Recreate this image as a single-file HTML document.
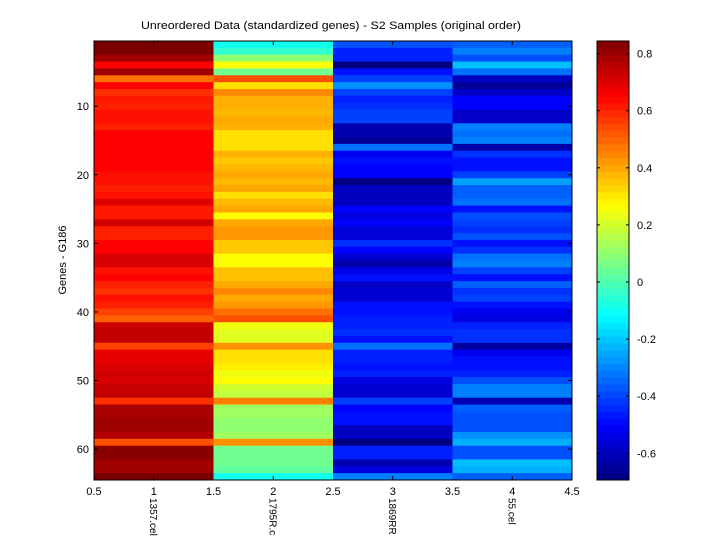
<!DOCTYPE html>
<html><head><meta charset="utf-8">
<style>
body{margin:0;background:#fff;width:720px;height:540px;overflow:hidden}
svg text{font-family:"Liberation Sans",sans-serif;font-size:11px;fill:#000}
</style></head><body>
<svg id="s" width="720" height="540" xmlns="http://www.w3.org/2000/svg">
<rect width="720" height="540" fill="#fff"/>
<g id="cells"></g>
<rect x="94" y="41" width="478" height="439" fill="none" stroke="#000" stroke-width="1"/>
<g id="ticks" stroke="#000" stroke-width="1"></g>
<text x="331" y="29" text-anchor="middle" textLength="380" lengthAdjust="spacingAndGlyphs">Unreordered Data (standardized genes) - S2 Samples (original order)</text>
<text transform="translate(66,260) rotate(-90)" text-anchor="middle">Genes - G186</text>
<g id="labels"></g>
<g id="cbc"></g>
<rect x="597" y="41" width="32" height="439" fill="none" stroke="#000"/>
<g id="cb" stroke="#000"></g>
</svg>
<script>
var c1="7a0000 7a0000 a00000 ff0000 a00000 ff7000 ff0000 ff3000 ff1800 ff2000 ff1000 ff1000 ff2000 ff0000 ff0000 ff0000 ff0000 ff0000 ff0000 ff1000 ff1000 ff2000 ff1000 e00000 ff1800 ff1800 d00000 ff2000 ff2000 ff0000 ff0000 d80000 d80000 ff1000 ff0000 ff2000 ff3000 ff1000 ff2000 ff4000 ff6000 c80000 c00000 c00000 ff4000 e80000 e80000 d80000 d00000 d80000 c80000 c00000 ff3000 a80000 a80000 a00000 a00000 b00000 ff5000 880000 880000 a00000 a00000 7a0000".split(" ");
var c2="10ffef 30ffd0 90ff70 ffff00 70ff90 ff5000 ffe000 ff8800 ffb000 ffb000 ffb800 ffa800 ffb000 ffe000 ffe000 ffe000 ffb000 ffc800 ffb800 ffa800 ffb800 ffa800 ffe000 ffb800 ffa800 ffff00 ffa800 ff9800 ff9800 ffc800 ffc800 ffff00 ffff00 ffc000 ffc000 ffa800 ff8800 ffa800 ff9800 ff7000 ff5000 f0ff10 e0ff20 e0ff20 ff9000 ffe000 ffe000 fff000 f0ff10 ffff00 d0ff30 c0ff40 ff8000 a0ff60 a0ff60 90ff70 90ff70 a0ff60 ff9000 70ff90 70ff90 70ff90 60ffa0 10ffef".split(" ");
var c3="0050ff 0020ff 0020ff 000080 0010ff 0040ff 0090ff 0040ff 0020ff 0030ff 0040ff 0040ff 0000b0 0000b0 000098 0070ff 0000f0 0010ff 0000ff 0000ff 000080 0000c0 0000c0 0000c0 0000ff 0000e0 0000ff 0000d8 0000d8 0030ff 0000ff 0000d0 0000a8 0000e8 0010ff 0000c8 0000d0 0000d0 0010ff 0010ff 0020ff 0020ff 0030ff 0010ff 0070ff 0020ff 0020ff 0010ff 0020ff 0000e0 0000d0 0000d0 0040ff 0000ff 0010ff 0010ff 0000c0 0000c0 000080 0020ff 0020ff 0000b0 0000e0 0080ff".split(" ");
var c4="0060ff 0080ff 0050ff 00c0ff 0070ff 0000c0 000098 0000c8 0000ff 0000ff 0000c8 0000c8 0080ff 0070ff 0080ff 0000a8 0030ff 0010ff 0010ff 0040ff 00a0ff 0060ff 0060ff 0070ff 0010ff 0050ff 0040ff 0030ff 0050ff 0010ff 0030ff 0070ff 0080ff 0040ff 0010ff 0060ff 0030ff 0040ff 0010ff 0000f0 0000e0 0020ff 0030ff 0030ff 0000a0 0000f0 0010ff 0010ff 0020ff 0050ff 0080ff 0080ff 0000b0 0060ff 0050ff 0050ff 0050ff 0090ff 00b0ff 0050ff 0050ff 00c0ff 00b0ff 0060ff".split(" ");
var cols=[c1,c2,c3,c4],h=439/64,w=478/4,s="";
for(var j=0;j<4;j++)for(var i=0;i<64;i++){
 var y0=41+i*h;
 s+='<rect x="'+(94+j*w)+'" y="'+y0+'" width="'+(w+0.5)+'" height="'+(h+0.5)+'" fill="#'+cols[j][i]+'"/>';}
document.getElementById("cells").innerHTML=s;
function jet(t){function c(x){return Math.round(255*Math.max(0,Math.min(1,x)));}
 var r=c(Math.min(4*t-1.5,-4*t+4.5)),g=c(Math.min(4*t-0.5,-4*t+3.5)),b=c(Math.min(4*t+0.5,-4*t+2.5));
 return "rgb("+r+","+g+","+b+")";}
var cc="";
for(var i=0;i<64;i++){var t=(i+0.5)/64;var y0=480-(i+1)*h;cc+='<rect x="597" y="'+y0+'" width="32" height="'+(h+0.5)+'" fill="'+jet(t)+'"/>';}
document.getElementById("cbc").innerHTML=cc;
var t="",l="";
for(var k=1;k<=4;k++){var x=94+(k-0.5)*w;t+='<line x1="'+x+'" y1="41" x2="'+x+'" y2="45"/><line x1="'+x+'" y1="480" x2="'+x+'" y2="476"/>';}
for(var k=0;k<=8;k++){var x=94+k*w/2;l+='<text x="'+x+'" y="495" text-anchor="middle">'+(0.5+k*0.5)+'</text>';}
for(var v=10;v<=60;v+=10){var y=41+(v-0.5)*h;t+='<line x1="94" y1="'+y+'" x2="98" y2="'+y+'"/><line x1="572" y1="'+y+'" x2="568" y2="'+y+'"/>';l+='<text x="89" y="'+(y+4)+'" text-anchor="end">'+v+'</text>';}
var names=["1357.cel","1795R.c","1869RR","55.cel"];
for(var k=0;k<4;k++){var x=94+(k+0.5)*w;l+='<text style="font-size:10px" transform="translate('+(x-4)+',498) rotate(90)">'+names[k]+'</text>';}
document.getElementById("ticks").innerHTML=t;
document.getElementById("labels").innerHTML=l;
var cb="",cl="";
for(var v=-6;v<=8;v+=2){var y=282-v*28.55;cb+='<line x1="597" y1="'+y+'" x2="600" y2="'+y+'"/><line x1="629" y1="'+y+'" x2="626" y2="'+y+'"/>';
 cl+='<text x="637" y="'+(y+4)+'">'+(v==0?"0":(v/10).toString())+'</text>';}
document.getElementById("cb").innerHTML=cb;
document.getElementById("labels").innerHTML+=cl;
</script>
</body></html>
